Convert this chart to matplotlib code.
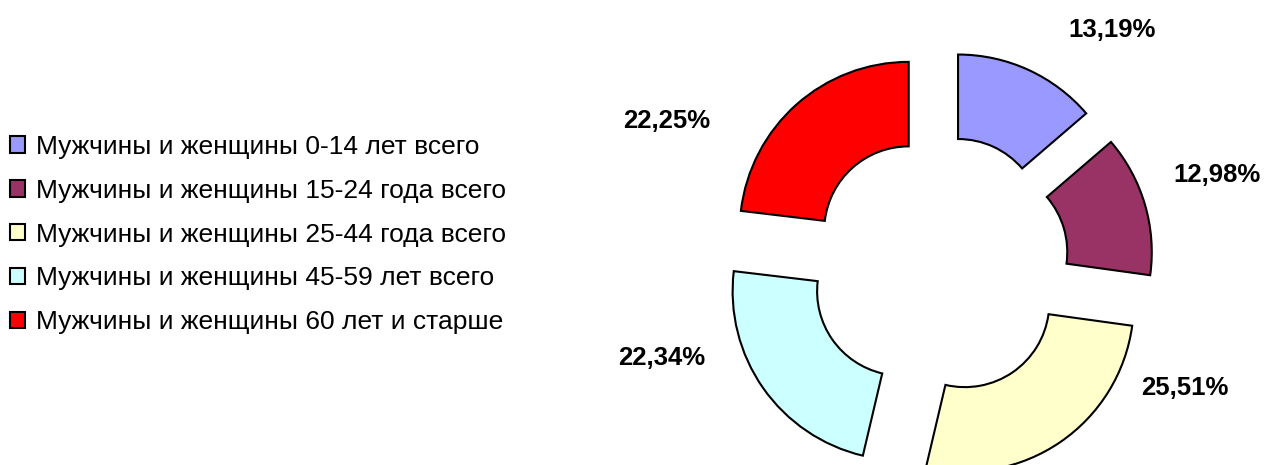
import numpy as np
import matplotlib.pyplot as plt
from matplotlib.patches import Patch

plt.rcParams['font.family'] = ['Liberation Sans', 'DejaVu Sans']

# данные
categories = ['Мужчины и женщины 0-14 лет всего',
              'Мужчины и женщины 15-24 года всего',
              'Мужчины и женщины 25-44 года всего',
              'Мужчины и женщины 45-59 лет всего',
              'Мужчины и женщины 60 лет и старше']
values = [13.19, 12.98, 25.51, 22.34, 22.25]
colors = ['#9999FF', '#993366', '#FFFFCC', '#CCFFFF', '#FF0000']

# положение подписей (в радиусах кольца)
label_pos = [(1.024, 1.391), (1.645, 0.533), (1.456, -0.728),
             (-1.639, -0.550), (-1.609, 0.852)]

W, H = 1267, 465
fig = plt.figure(figsize=(W / 100, H / 100), dpi=100)

# центр кольца и радиус в пикселях
cx, cy, R = 939, 265, 169
ax = fig.add_axes([(cx - 260) / W, 0, 520 / W, 1])
wedges, _ = ax.pie(values, colors=colors, startangle=90, counterclock=False,
                   radius=1.0, explode=[0.27] * len(values),
                   wedgeprops=dict(width=0.5, edgecolor='black', linewidth=1.5))
ax.set_aspect('auto')
ax.set_xlim(-260 / R, 260 / R)
ax.set_ylim(-(H - cy) / R, cy / R)
ax.axis('off')

for v, (x, y) in zip(values, label_pos):
    ax.text(x, y, f'{v:.2f}%'.replace('.', ','), ha='center', va='center',
            fontsize=18.5, fontweight='bold')

handles = [Patch(facecolor=c, edgecolor='black', linewidth=1.5) for c in colors]
fig.legend(handles, categories, loc='upper left', bbox_to_anchor=(10 / W, 1 - 135 / H),
           frameon=False, fontsize=19, labelspacing=0.75, handlelength=0.58,
           handleheight=0.58, handletextpad=0.42, borderpad=0, borderaxespad=0)

fig.savefig('out.png', dpi=100)
